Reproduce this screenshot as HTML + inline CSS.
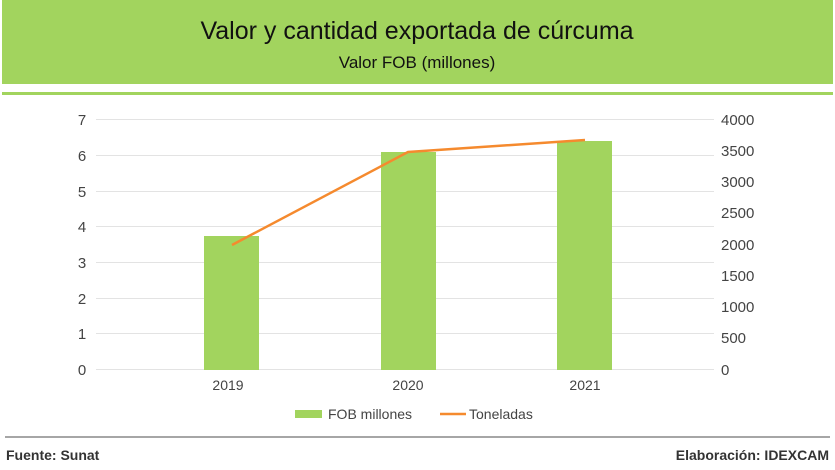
<!DOCTYPE html>
<html><head><meta charset="utf-8"><style>
body{margin:0;width:835px;height:465px;background:#fff;overflow:hidden;font-family:"Liberation Sans",sans-serif;}
</style></head><body>
<svg width="835" height="465" xmlns="http://www.w3.org/2000/svg" font-family="Liberation Sans, sans-serif">
<rect x="2" y="0" width="831" height="84" fill="#a2d45e"/>
<text x="417" y="39" text-anchor="middle" font-size="25" fill="#111">Valor y cantidad exportada de cúrcuma</text>
<text x="417" y="68" text-anchor="middle" font-size="17" fill="#111">Valor FOB (millones)</text>
<rect x="2" y="92" width="831" height="3" fill="#a2d45e"/>
<g stroke="#e3e3e3" stroke-width="1">
<line x1="96" x2="714" y1="119.5" y2="119.5"/><line x1="96" x2="714" y1="155.5" y2="155.5"/>
<line x1="96" x2="714" y1="191.5" y2="191.5"/><line x1="96" x2="714" y1="226.5" y2="226.5"/>
<line x1="96" x2="714" y1="262.5" y2="262.5"/><line x1="96" x2="714" y1="298.5" y2="298.5"/>
<line x1="96" x2="714" y1="333.5" y2="333.5"/><line x1="96" x2="714" y1="369.5" y2="369.5"/>
</g>
<g font-size="15" fill="#444" text-anchor="middle">
<text x="82" y="125">7</text><text x="82" y="161">6</text><text x="82" y="197">5</text><text x="82" y="232">4</text>
<text x="82" y="268">3</text><text x="82" y="304">2</text><text x="82" y="339">1</text><text x="82" y="375">0</text>
</g>
<g font-size="15" fill="#444" text-anchor="start">
<text x="721" y="125">4000</text><text x="721" y="156">3500</text><text x="721" y="187">3000</text><text x="721" y="218">2500</text>
<text x="721" y="250">2000</text><text x="721" y="281">1500</text><text x="721" y="312">1000</text><text x="721" y="343">500</text><text x="721" y="375">0</text>
</g>
<g fill="#a2d45e">
<rect x="204" y="236" width="55" height="134"/>
<rect x="381" y="152" width="55" height="218"/>
<rect x="557" y="141" width="55" height="229"/>
</g>
<polyline points="232,245 408,152 585,140" fill="none" stroke="#f58a2e" stroke-width="2.5"/>
<g font-size="14" fill="#444" text-anchor="middle">
<text x="228" y="390">2019</text><text x="408" y="390">2020</text><text x="585" y="390">2021</text>
</g>
<rect x="295" y="410" width="27" height="8" fill="#a2d45e"/>
<text x="328" y="419" font-size="14" fill="#444">FOB millones</text>
<line x1="440" x2="466" y1="414" y2="414" stroke="#f58a2e" stroke-width="2.5"/>
<text x="469" y="419" font-size="14" fill="#444">Toneladas</text>
<line x1="5" x2="830" y1="437" y2="437" stroke="#888" stroke-width="1.5"/>
<text x="6" y="460" font-size="14" font-weight="bold" fill="#333">Fuente:  Sunat</text>
<text x="829" y="460" font-size="14" font-weight="bold" fill="#333" text-anchor="end">Elaboración: IDEXCAM</text>
</svg>
</body></html>
